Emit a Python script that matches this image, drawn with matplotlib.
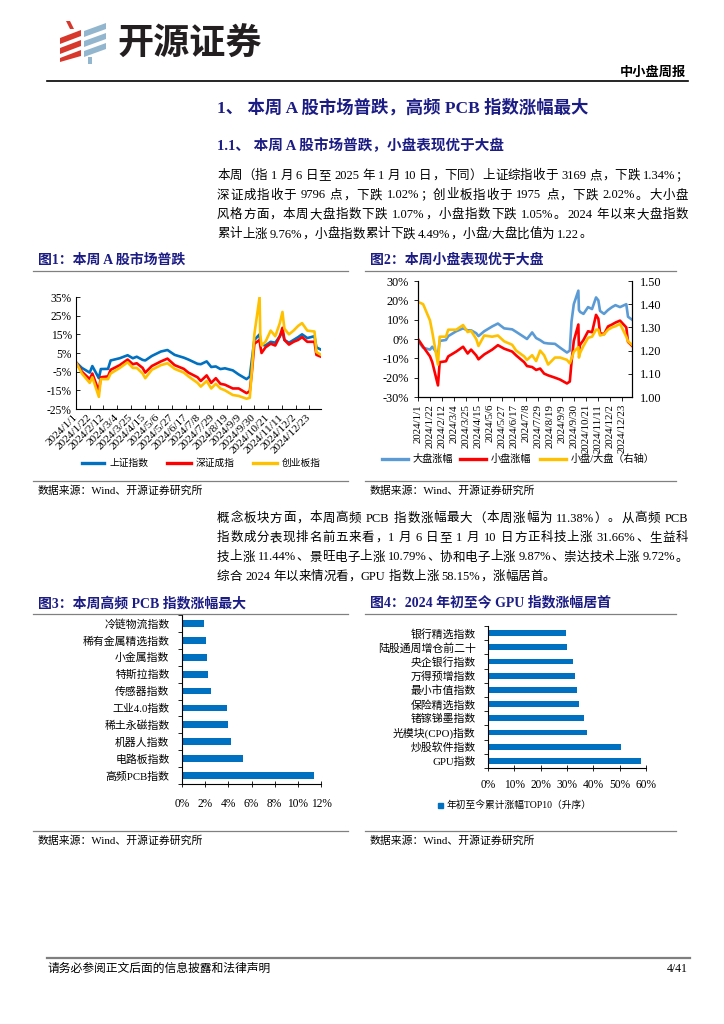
import re
import pandas as pd
import matplotlib
matplotlib.use('Agg')
import matplotlib.pyplot as plt
from matplotlib.lines import Line2D
from matplotlib.patches import Polygon, Rectangle
from matplotlib.font_manager import FontProperties

# ---------------- data ----------------
dates = ['2024-01-01', '2024-01-10', '2024-01-22', '2024-01-26', '2024-02-05', '2024-02-08',
         '2024-02-19', '2024-02-23', '2024-03-08', '2024-03-20', '2024-03-28', '2024-04-03',
         '2024-04-12', '2024-04-16', '2024-04-26', '2024-05-10', '2024-05-20', '2024-05-31',
         '2024-06-14', '2024-06-21', '2024-07-05', '2024-07-10', '2024-07-19', '2024-07-26',
         '2024-08-02', '2024-08-09', '2024-08-16', '2024-08-28', '2024-09-06', '2024-09-18',
         '2024-09-23', '2024-09-26', '2024-09-30', '2024-10-08', '2024-10-09', '2024-10-11',
         '2024-10-17', '2024-10-25', '2024-11-01', '2024-11-08', '2024-11-12', '2024-11-15',
         '2024-11-22', '2024-11-29', '2024-12-06', '2024-12-12', '2024-12-20', '2024-12-31',
         '2025-01-03', '2025-01-10']

fig1_sh = [0, -3, -5.5, -2, -8.5, -3.6, -3.5, 1, 2.2, 3.8, 2.2, 3, 1.3, 1, 3.4, 5.8, 6.6, 4,
           2.5, 1.5, -0.8, -1, 0.5, -2.5, -2.2, -3.6, -3.2, -4.3, -6.5, -9, -7.6, 0.8, 12, 15,
           11, 9.5, 9, 11, 10.5, 14, 16.5, 12, 10.5, 12, 13.5, 15, 13, 14, 8, 6.8]
fig1_sz = [0, -5, -9, -6, -15.5, -8, -7.5, -4, -1.5, 1.5, -1, -0.5, -3, -5.5, -2, 0.5, 2, -1.5,
           -3.5, -5.5, -8, -10, -7, -11, -8.5, -11.5, -12, -14, -14, -16.5, -15.5, -6, 10, 12,
           9, 5, 8, 10, 9, 14, 18.5, 12, 9.5, 11, 12, 13.5, 11, 11, 4, 3]
fig1_cyb = [0, -6, -11, -8, -18.5, -9, -9, -6, -3, 0, -3, -3, -6, -8.5, -4, -1.5, -0.5, -3.5,
            -5.5, -7.5, -11, -13, -10, -14, -11.5, -14, -15, -17.5, -18, -19.5, -19, -5, 15, 35,
            15, 9, 11, 17, 14, 21, 27, 18, 15, 17, 19.5, 21, 17, 16.5, 5.5, 4]

fig2_big = [-1, -4.5, -5.5, -4, -8, -1, -0.5, 1.5, 4, 5.5, 4.5, 4.5, 3, 1.5, 4, 6.5, 8, 5.5,
            5, 3.7, 1, 0, 3.4, 0.5, -0.6, -2, -2.3, -2.5, -4.5, -7, -6, 9, 18, 25, 15, 14, 13,
            16.5, 15.5, 21.5, 20, 14.5, 13, 15, 16.5, 17.5, 16.5, 18, 11.5, 10]
fig2_small = [0, -4, -9, -12, -24, -12, -11.5, -9, -6.5, -4, -7.5, -5.5, -8.5, -10.5, -8, -5.5,
              -3.2, -5, -6.5, -8.5, -12, -14, -14.5, -16, -15.3, -17.9, -18.8, -20, -21, -23,
              -22, -12, -1, 7.5, -5.5, -3, -0.5, 4, 3.5, 12.5, 10.5, 3, 2.5, 6.5, 7.5, 8.5, 9.5,
              6, -1.5, -3.5]
fig2_ratio = [1.41, 1.40, 1.33, 1.28, 1.14, 1.26, 1.26, 1.29, 1.29, 1.31, 1.28, 1.285, 1.25,
              1.22, 1.265, 1.26, 1.265, 1.24, 1.225, 1.20, 1.175, 1.16, 1.18, 1.155, 1.20, 1.18,
              1.14, 1.17, 1.17, 1.16, 1.145, 1.165, 1.195, 1.215, 1.17, 1.19, 1.22, 1.255, 1.26,
              1.29, 1.29, 1.265, 1.27, 1.29, 1.30, 1.305, 1.315, 1.26, 1.24, 1.225]

fig1_legend = ['上证指数', '深证成指', '创业板指']
fig2_legend = ['大盘涨幅', '小盘涨幅', '小盘/大盘（右轴）']

fig3_cats = ['冷链物流指数', '稀有金属精选指数', '小金属指数', '特斯拉指数', '传感器指数',
             '工业4.0指数', '稀土永磁指数', '机器人指数', '电路板指数', '高频PCB指数']
fig3_vals = [1.87, 2.10, 2.20, 2.25, 2.48, 3.86, 3.98, 4.27, 5.27, 11.38]

fig4_cats = ['银行精选指数', '陆股通周增仓前二十', '央企银行指数', '万得预增指数', '最小市值指数',
             '保险精选指数', '锗镓锑墨指数', '光模块(CPO)指数', '炒股软件指数', 'GPU指数']
fig4_vals = [29.7, 29.9, 32.3, 33.0, 33.9, 34.7, 36.5, 37.6, 50.5, 58.15]
fig4_legend = '年初至今累计涨幅TOP10（升序）'

para1 = ['本周（指 1 月 6 日至 2025 年 1 月 10 日，下同）上证综指收于 3169 点，下跌 1.34%；',
         '深证成指收于 9796 点，下跌 1.02%；创业板指收于 1975 点，下跌 2.02%。大小盘',
         '风格方面，本周大盘指数下跌 1.07%，小盘指数下跌 1.05%。2024 年以来大盘指数',
         '累计上涨 9.76%，小盘指数累计下跌 4.49%，小盘/大盘比值为 1.22。']
para2 = ['概念板块方面，本周高频 PCB 指数涨幅最大（本周涨幅为 11.38%）。从高频 PCB',
         '指数成分表现排名前五来看，1 月 6 日至 1 月 10 日方正科技上涨 31.66%、生益科',
         '技上涨 11.44%、景旺电子上涨 10.79%、协和电子上涨 9.87%、崇达技术上涨 9.72%。',
         '综合 2024 年以来情况看，GPU 指数上涨 58.15%，涨幅居首。']

# ---------------- style ----------------
FAM = ['Liberation Serif', 'Noto Sans CJK SC']
CJK = ['Noto Sans CJK SC', 'Liberation Serif']
plt.rcParams['font.family'] = FAM
plt.rcParams['axes.unicode_minus'] = False
NAVY = '#1C1C85'
BLUE = '#0070C0'
LBLUE = '#5B9BD5'
RED = '#FF0000'
YEL = '#FFC000'

W, H = 724, 1024
fig = plt.figure(figsize=(W / 100, H / 100), dpi=100)
fig.patch.set_facecolor('white')


def fx(x):
    return x / W


def fy(y):
    return 1 - y / H


def txt(x, y, s, **kw):
    kw.setdefault('va', 'center')
    return fig.text(fx(x), fy(y), s, **kw)


def hline(x0, x1, y, color='#7F7F7F', lw=0.8):
    fig.add_artist(Line2D([fx(x0), fx(x1)], [fy(y), fy(y)], color=color, lw=lw,
                          transform=fig.transFigure))


def axes_px(l, t, r, b):
    return fig.add_axes([fx(l), fy(b), (r - l) / W, (b - t) / H])


renderer = fig.canvas.get_renderer()


def para_line(y, s, x0, x1, size=9, justify=True):
    fp = FontProperties(family=FAM, size=size)
    toks = re.findall(r' +|[\x21-\x7e]+|[^\x00-\x7f]', s)

    def tw(t):
        if t.strip() == '':
            a = renderer.get_text_width_height_descent('a' + t + 'a', fp, ismath=False)[0]
            b = renderer.get_text_width_height_descent('aa', fp, ismath=False)[0]
            return a - b
        return renderer.get_text_width_height_descent(t, fp, ismath=False)[0]

    widths = [tw(t) for t in toks]
    gaps = len(toks) - 1
    extra = ((x1 - x0) - sum(widths)) / gaps if (justify and gaps > 0) else 0
    x = x0
    for t, wd in zip(toks, widths):
        if t.strip():
            fig.text(fx(x), fy(y + 4.5), t, fontproperties=fp, va='baseline', ha='left',
                     color='black')
        x += wd + extra


# ---------------- header ----------------
logo_red = [[(66, 21), (70, 21), (74, 29), (70, 29)],
            [(60, 38), (81, 30), (81, 36), (60, 44)],
            [(60, 48), (81, 40), (81, 46), (60, 54)],
            [(60, 58), (81, 50), (81, 56), (60, 62)]]
logo_blue = [[(84, 31), (106, 23), (106, 29), (84, 37)],
             [(84, 41), (106, 33), (106, 39), (84, 47)],
             [(84, 51), (106, 43), (106, 49), (84, 57)],
             [(88, 57), (92, 57), (92, 64), (88, 64)]]
for poly in logo_red:
    fig.add_artist(Polygon([(fx(a), fy(b)) for a, b in poly], closed=True, color='#D8382C',
                           transform=fig.transFigure, lw=0))
for poly in logo_blue:
    fig.add_artist(Polygon([(fx(a), fy(b)) for a, b in poly], closed=True, color='#93B6CF',
                           transform=fig.transFigure, lw=0))
txt(117, 44, '开源证券', family=CJK, fontsize=26, fontweight='bold', color='#231F20')
txt(686, 72, '中小盘周报', family=CJK, fontsize=9.5, fontweight='bold', ha='right')
hline(47, 688, 80.5, color='black', lw=1.2)

# ---------------- headings / paragraphs ----------------
txt(217, 108, '1、 本周 A 股市场普跌，高频 PCB 指数涨幅最大', fontsize=12.5, fontweight='bold',
    color=NAVY)
txt(217, 146, '1.1、 本周 A 股市场普跌，小盘表现优于大盘', fontsize=10.5, fontweight='bold',
    color=NAVY)
for i, s in enumerate(para1):
    para_line(174.5 + i * 19.5, s, 217, 688, 9, justify=(i < len(para1) - 1))
for i, s in enumerate(para2):
    para_line(517 + i * 19.5, s, 217, 688, 9, justify=(i < len(para2) - 1))

# ---------------- figure titles / sources ----------------
for x0, x1, y, title in [(33, 348, 260, '图1：本周 A 股市场普跌'),
                         (365, 676, 260, '图2：本周小盘表现优于大盘'),
                         (33, 348, 603, '图3：本周高频 PCB 指数涨幅最大'),
                         (365, 676, 603, '图4：2024 年初至今 GPU 指数涨幅居首')]:
    txt(x0 + 5, y, title, fontsize=10, fontweight='bold', color=NAVY)
    hline(x0, x1, y + 10.5, color='#808080', lw=0.9)
for x0, x1, y in [(33, 348, 481), (365, 676, 481), (33, 348, 831), (365, 676, 831)]:
    hline(x0, x1, y, color='#808080', lw=0.9)
    txt(x0 + 5, y + 9.5, '数据来源：Wind、开源证券研究所', fontsize=7.8)

# ---------------- shared x axis helpers ----------------
dt = pd.to_datetime(dates)
tick_dates = pd.date_range('2024-01-01', periods=18, freq='21D')
tick_labels = [f'{d.year}/{d.month}/{d.day}' for d in tick_dates]
xmin, xmax = pd.Timestamp('2024-01-01'), pd.Timestamp('2025-01-10')

# ---------------- chart 1 ----------------
ax1 = axes_px(76, 297, 321, 409)
ax1.plot(dt, fig1_sh, color=BLUE, lw=1.9, label=fig1_legend[0])
ax1.plot(dt, fig1_sz, color=RED, lw=1.9, label=fig1_legend[1])
ax1.plot(dt, fig1_cyb, color=YEL, lw=1.9, label=fig1_legend[2])
ax1.set_xlim(xmin, xmax)
ax1.set_ylim(-25, 35)
ax1.set_yticks(range(-25, 36, 10))
ax1.set_yticklabels([f'{v}%' for v in range(-25, 36, 10)], fontsize=8.3)
ax1.set_xticks(tick_dates)
ax1.set_xticklabels(tick_labels, rotation=45, ha='right', va='center', rotation_mode='anchor',
                    fontsize=8.2)
ax1.tick_params(axis='both', direction='in', length=3, width=0.6, pad=3)
ax1.tick_params(axis='x', pad=5)
for s in ['top', 'right']:
    ax1.spines[s].set_visible(False)
for s in ['left', 'bottom']:
    ax1.spines[s].set_linewidth(0.8)

for (xa, xb, xt), col, lab in zip([(82, 104, 109), (167, 191, 196), (253, 277, 282)],
                                  [BLUE, RED, YEL], fig1_legend):
    fig.add_artist(Line2D([fx(xa), fx(xb)], [fy(463), fy(463)], color=col, lw=2.4,
                          transform=fig.transFigure))
    txt(xt, 463, lab, fontsize=7)

# ---------------- chart 2 ----------------
ax2 = axes_px(418, 281, 632, 397)
ax2.plot(dt, fig2_big, color=LBLUE, lw=1.9)
ax2.plot(dt, fig2_small, color=RED, lw=1.9)
ax2.set_xlim(xmin, xmax)
ax2.set_ylim(-30, 30)
ax2.set_yticks(range(-30, 31, 10))
ax2.set_yticklabels([f'{v}%' for v in range(-30, 31, 10)], fontsize=8.8)
ax2.set_xticks(tick_dates)
ax2.set_xticklabels(tick_labels, rotation=90, fontsize=7.8)
ax2.tick_params(axis='both', direction='out', length=3, width=0.6)
ax2.tick_params(axis='x', pad=2)
ax2b = ax2.twinx()
ax2b.plot(dt, fig2_ratio, color=YEL, lw=1.9)
ax2b.set_ylim(1.0, 1.5)
ax2b.set_yticks([1.0, 1.1, 1.2, 1.3, 1.4, 1.5])
ax2b.set_yticklabels([f'{v:.2f}' for v in [1.0, 1.1, 1.2, 1.3, 1.4, 1.5]], fontsize=8.8)
ax2b.tick_params(axis='y', direction='in', length=3, width=0.6, pad=6)
ax2.spines['top'].set_visible(False)
ax2b.spines['top'].set_visible(False)
for a in (ax2, ax2b):
    for s in ['left', 'bottom', 'right']:
        a.spines[s].set_linewidth(0.8)

for (xa, xb, xt), col, lab in zip([(382, 408, 413), (460, 486, 491), (540, 566, 571)],
                                  [LBLUE, RED, YEL], fig2_legend):
    fig.add_artist(Line2D([fx(xa), fx(xb)], [fy(459), fy(459)], color=col, lw=2.4,
                          transform=fig.transFigure))
    txt(xt, 459, lab, fontsize=7.3)

# ---------------- chart 3 ----------------
ax3 = axes_px(182, 615, 321, 784)
y3 = list(range(len(fig3_cats)))
ax3.barh(y3, fig3_vals, height=0.4, color=BLUE)
ax3.set_ylim(len(fig3_cats) - 0.5, -0.5)
ax3.set_xlim(0, 12)
ax3.set_xticks(range(0, 13, 2))
ax3.set_xticklabels([f'{v}%' for v in range(0, 13, 2)], fontsize=8.3)
ax3.set_yticks(y3)
ax3.set_yticklabels(fig3_cats, fontsize=7.8)
ax3.set_yticks([i - 0.5 for i in range(len(fig3_cats) + 1)], minor=True)
ax3.tick_params(axis='y', which='major', length=0, pad=9)
ax3.tick_params(axis='y', which='minor', direction='out', length=3, width=0.6)
ax3.tick_params(axis='x', direction='inout', length=4, width=0.6, pad=8)
for s in ['top', 'right']:
    ax3.spines[s].set_visible(False)
for s in ['left', 'bottom']:
    ax3.spines[s].set_linewidth(0.8)

# ---------------- chart 4 ----------------
ax4 = axes_px(488, 626, 646, 768)
y4 = list(range(len(fig4_cats)))
ax4.barh(y4, fig4_vals, height=0.42, color=BLUE)
ax4.set_ylim(len(fig4_cats) - 0.5, -0.5)
ax4.set_xlim(0, 60)
ax4.set_xticks(range(0, 61, 10))
ax4.set_xticklabels([f'{v}%' for v in range(0, 61, 10)], fontsize=8.3)
ax4.set_yticks(y4)
ax4.set_yticklabels(fig4_cats, fontsize=7.8)
ax4.set_yticks([i - 0.5 for i in range(len(fig4_cats) + 1)], minor=True)
ax4.tick_params(axis='y', which='major', length=0, pad=9)
ax4.tick_params(axis='y', which='minor', direction='out', length=3, width=0.6)
ax4.tick_params(axis='x', direction='inout', length=4, width=0.6, pad=6)
for s in ['top', 'right']:
    ax4.spines[s].set_visible(False)
for s in ['left', 'bottom']:
    ax4.spines[s].set_linewidth(0.8)
fig.add_artist(Rectangle((fx(438), fy(808)), 5 / W, 5 / H, color=BLUE,
                         transform=fig.transFigure))
txt(447, 805, fig4_legend, fontsize=7)

# ---------------- footer ----------------
hline(47, 690, 958, color='#7F7F7F', lw=1.6)
txt(47, 969, '请务必参阅正文后面的信息披露和法律声明', fontsize=8.5)
txt(688, 969, '4/41', fontsize=8.5, ha='right')

fig.savefig('out.png', dpi=100, facecolor='white')
